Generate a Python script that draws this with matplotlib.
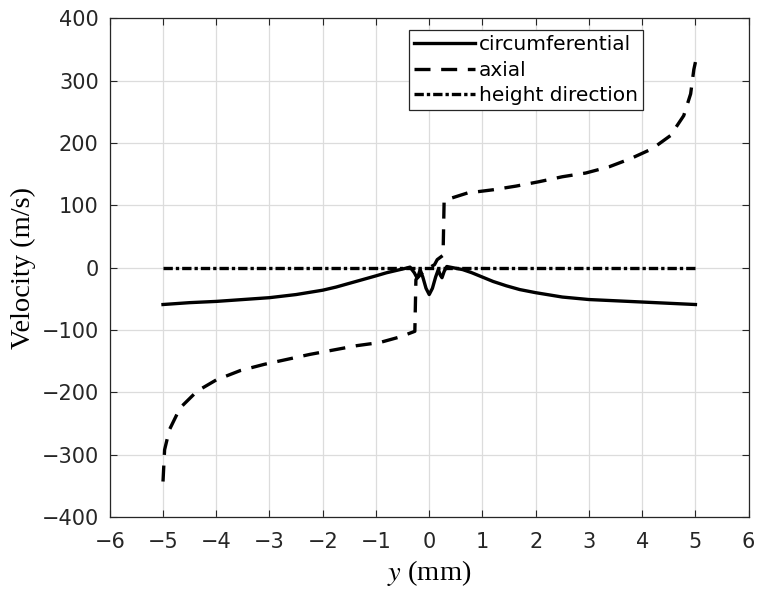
import matplotlib
matplotlib.use("Agg")
import matplotlib.pyplot as plt

# Sampled velocity profiles across the gap, y in mm, velocities in m/s
y_circ = [-5.0, -4.5, -4.0, -3.5, -3.0, -2.5, -2.0, -1.75, -1.5, -1.25,
          -1.0, -0.8, -0.6, -0.45, -0.36, -0.28, -0.23, -0.21, -0.17, -0.12,
          -0.06, 0.0, 0.06, 0.12, 0.17, 0.21, 0.24, 0.28, 0.33, 0.45,
          0.63, 0.8, 1.0, 1.2, 1.45, 1.7, 2.0, 2.5, 3.0, 3.5,
          4.0, 4.5, 5.0]
v_circ = [-59, -56, -54, -51, -48, -43, -36, -31, -25, -19,
          -13, -8, -4, -1, 1, -8, -16, -14, -3, -15,
          -33, -43, -33, -15, -3, -12, -16, -6, 2, 0,
          -3, -8, -15, -22, -29, -35, -40, -47, -51, -53,
          -55, -57, -59]

y_axial = [-5.0, -4.97, -4.88, -4.68, -4.36, -4.0, -3.55, -3.1, -2.67, -2.24,
           -1.8, -1.36, -0.93, -0.55, -0.27, -0.25, -0.1, 0.1, 0.15, 0.26,
           0.28, 0.72, 1.19, 1.63, 2.06, 2.5, 2.94, 3.38, 3.78, 4.19,
           4.53, 4.78, 4.91, 4.97, 5.0]
v_axial = [-343, -292, -260, -225, -198, -180, -165, -155, -147, -139,
           -132, -125, -120, -111, -102, -19, -5, 5, 13, 20,
           108, 120, 125, 131, 138, 146, 152, 162, 175, 191,
           212, 244, 279, 318, 330]

y_height = [-5.0, 5.0]
v_height = [0, 0]

x_ticks = list(range(-6, 7))
y_ticks = list(range(-400, 401, 100))

plt.rcParams['font.family'] = ['DejaVu Sans']

fig = plt.figure(figsize=(7.57, 5.95), dpi=100)
ax = fig.add_axes([0.145, 0.131, 0.844, 0.838])

lw = 2.4
ax.plot(y_circ, v_circ, color='black', lw=lw, label='circumferential')
ax.plot(y_axial, v_axial, color='black', lw=lw, dashes=(4.8, 3.2),
        label='axial')
ax.plot(y_height, v_height, color='black', lw=lw,
        dashes=(2.8, 0.9, 1.0, 0.9), label='height direction')

ax.set_xlim(-6, 6)
ax.set_ylim(-400, 400)
ax.set_xticks(x_ticks)
ax.set_yticks(y_ticks)
ax.set_xticklabels([str(t).replace('-', '\u2212') for t in x_ticks])
ax.set_yticklabels([str(t).replace('-', '\u2212') for t in y_ticks])
ax.tick_params(direction='in', length=5, width=0.8, labelsize=15,
               top=True, right=True, colors='#262626', labelcolor='#262626')
ax.tick_params(axis='x', pad=11)
ax.tick_params(axis='y', pad=8)
ax.grid(True, color='#dcdcdc', lw=0.9)
ax.set_axisbelow(True)
for s in ax.spines.values():
    s.set_linewidth(0.9)
    s.set_color('#262626')

ax.set_xlabel(r'$y$ (mm)', family='Liberation Serif', fontsize=20.5,
              labelpad=4, math_fontfamily='stix')
ax.set_ylabel('Velocity (m/s)', family='Liberation Serif', fontsize=20.5,
              labelpad=4)

leg = ax.legend(loc='upper right', bbox_to_anchor=(0.834, 0.976),
                fontsize=14.5, handlelength=3.0, handletextpad=0.2,
                borderpad=0.25, labelspacing=0.32, fancybox=False,
                framealpha=1, edgecolor='#262626', borderaxespad=0)
leg.get_frame().set_linewidth(0.9)

fig.savefig('out.png', dpi=100)
